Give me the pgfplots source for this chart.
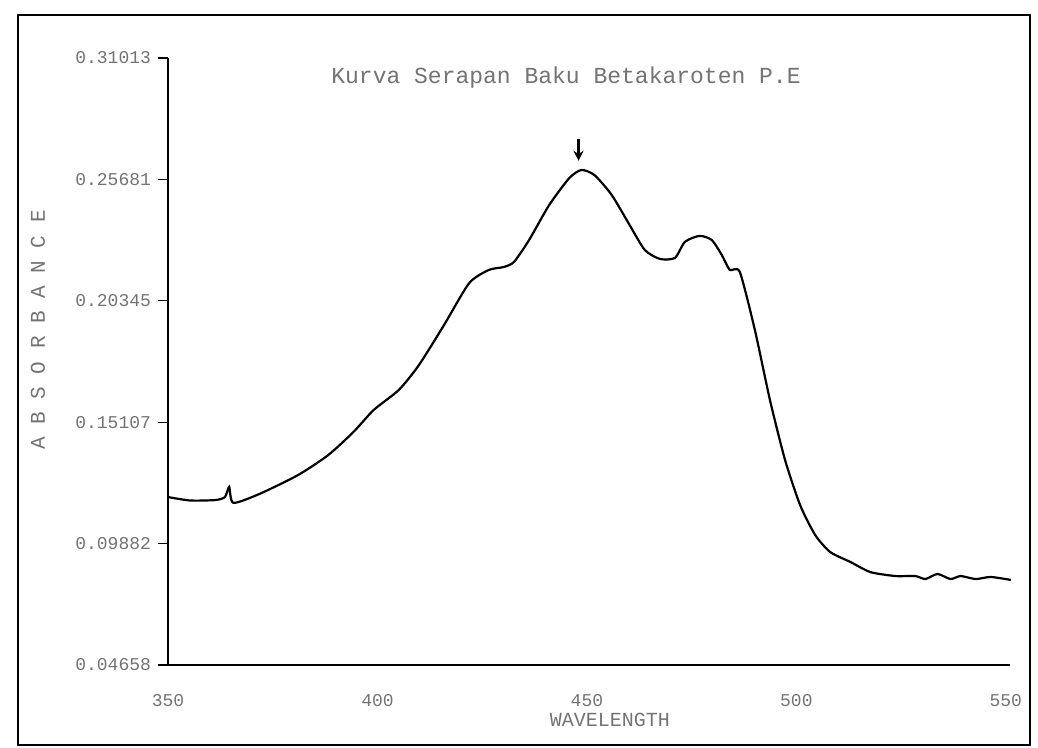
\documentclass[border=0pt]{standalone}
\usepackage{pgfplots}
\pgfplotsset{compat=1.18}
\usetikzlibrary{arrows.meta}
\usepackage{fontspec}
\setmainfont{Liberation Mono}
\definecolor{txt}{gray}{0.45}
\pgfplotstableread{
x y
350.0 0.1195
355.3 0.1180
361.3 0.1182
363.6 0.1195
364.6 0.1239
365.6 0.1170
371.9 0.1209
381.1 0.1291
388.3 0.1378
394.3 0.1478
399.1 0.1573
405.1 0.1660
409.9 0.1768
415.9 0.1942
421.9 0.2124
426.6 0.2181
430.2 0.2194
432.6 0.2216
436.2 0.2311
441.0 0.2463
445.8 0.2580
448.7 0.2615
451.8 0.2593
455.9 0.2507
460.2 0.2376
463.8 0.2268
467.4 0.2229
471.0 0.2233
473.4 0.2303
476.9 0.2329
479.8 0.2311
482.2 0.2246
484.1 0.2181
486.5 0.2172
490.1 0.1920
493.7 0.1616
497.3 0.1356
500.9 0.1160
504.5 0.1030
508.1 0.0956
512.9 0.0913
517.7 0.0869
523.7 0.0852
528.4 0.0852
530.8 0.0839
533.7 0.0861
536.8 0.0839
539.2 0.0852
542.8 0.0839
546.4 0.0848
551.2 0.0835
}\spec
\begin{document}
\begin{tikzpicture}[x=1pt,y=1pt]
\path (0,0) rectangle (519,374);
\draw[line width=1.1pt] (9,1.5) rectangle (515,366.5);
\begin{axis}[
  at={(84pt,41.5pt)}, anchor=origin,
  scale only axis, width=421pt, height=303.5pt,
  xmin=350, xmax=551, ymin=0.04658, ymax=0.31013,
  axis x line=bottom, axis y line=left,
  axis line style={-, line width=1.1pt},
  xtick={350,400,450,500,550},
  xticklabels={350,400,450,500,550},
  ytick={0.04658,0.09929,0.15200,0.20471,0.25742,0.31013},
  yticklabels={0.04658,0.09882,0.15107,0.20345,0.25681,0.31013},
  tick align=outside, major tick length=5pt,
  tick style={black, line width=0.6pt},
  xtick style={draw=none},
  tick label style={font=\fontsize{9}{10}\selectfont, text=txt},
  xticklabel style={yshift=-6pt},
  clip=false,
]
\addplot[black, line width=1.1pt, smooth, tension=0.4] table[x=x,y=y]{\spec};
\draw[-{Stealth[length=5pt,width=5pt]}, line width=1.3pt] (axis cs:448.0,0.2750) -- (axis cs:448.0,0.2655);
\end{axis}
\node[text=txt, font=\fontsize{11.5}{12}\selectfont] at (283,335) {Kurva Serapan Baku Betakaroten P.E};
\node[text=txt, font=\fontsize{10.5}{11}\selectfont, rotate=90] at (19,209) {A~B~S~O~R~B~A~N~C~E};
\node[text=txt, font=\fontsize{10}{11}\selectfont] at (305,14) {WAVELENGTH};
\end{tikzpicture}
\end{document}
